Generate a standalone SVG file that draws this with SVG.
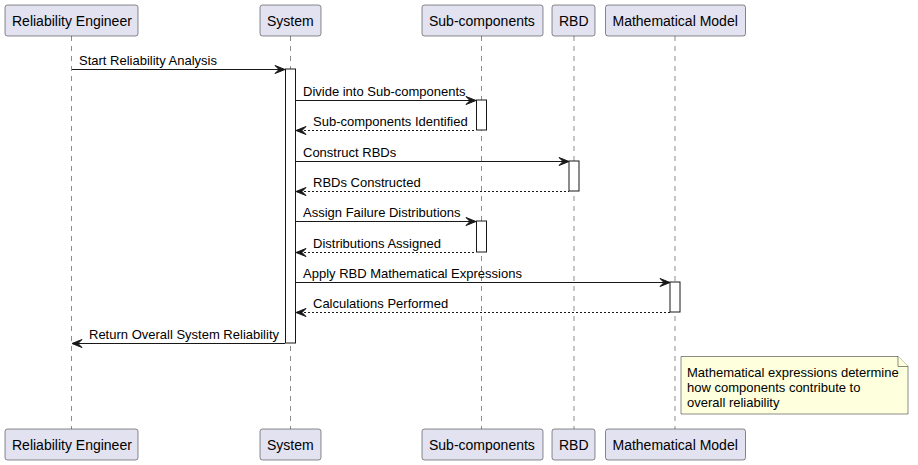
<svg xmlns="http://www.w3.org/2000/svg" width="918" height="465" viewBox="0 0 918 465">
<defs>
<style>
.p rect{fill:#E2E2F0;stroke:#181818;stroke-width:0.5}
.p text{font-family:"Liberation Sans",Arial,sans-serif;font-size:14px;fill:#000}
.life{stroke:#181818;stroke-width:0.5;stroke-dasharray:5,5;fill:none}
.act{fill:#FFFFFF;stroke:#181818;stroke-width:1}
.msg{stroke:#181818;stroke-width:1;fill:none}
.ret{stroke:#181818;stroke-width:1;fill:none;stroke-dasharray:2,2}
.ah{fill:#181818;stroke:#181818;stroke-width:1}
.lbl{font-family:"Liberation Sans",Arial,sans-serif;font-size:13px;fill:#000}
.note{fill:#FEFFDD;stroke:#181818;stroke-width:0.5}
</style>
</defs>
<rect width="918" height="465" fill="#FFFFFF"/>
<g id="lifelines">
<line class="life" x1="71.5" y1="36" x2="71.5" y2="429"/>
<line class="life" x1="290.5" y1="36" x2="290.5" y2="429"/>
<line class="life" x1="481.5" y1="36" x2="481.5" y2="429"/>
<line class="life" x1="574" y1="36" x2="574" y2="429"/>
<line class="life" x1="675" y1="36" x2="675" y2="429"/>
</g>
<g id="activations">
<rect class="act" x="285.5" y="69" width="10" height="274"/>
<rect class="act" x="476.5" y="100" width="10" height="30"/>
<rect class="act" x="569" y="161" width="10" height="30"/>
<rect class="act" x="476.5" y="221" width="10" height="31"/>
<rect class="act" x="670" y="282" width="10" height="30"/>
</g>
<g id="p-engineer" class="p">
<rect x="5" y="5" width="133" height="31" rx="2.5"/><text x="12" y="25.5">Reliability Engineer</text>
<rect x="5" y="429" width="133" height="31" rx="2.5"/><text x="12" y="449.5">Reliability Engineer</text>
</g>
<g id="p-system" class="p">
<rect x="260" y="5" width="61" height="31" rx="2.5"/><text x="267" y="25.5">System</text>
<rect x="260" y="429" width="61" height="31" rx="2.5"/><text x="267" y="449.5">System</text>
</g>
<g id="p-sub" class="p">
<rect x="422" y="5" width="121" height="31" rx="2.5"/><text x="429" y="25.5">Sub-components</text>
<rect x="422" y="429" width="121" height="31" rx="2.5"/><text x="429" y="449.5">Sub-components</text>
</g>
<g id="p-rbd" class="p">
<rect x="552" y="5" width="43" height="31" rx="2.5"/><text x="559" y="25.5">RBD</text>
<rect x="552" y="429" width="43" height="31" rx="2.5"/><text x="559" y="449.5">RBD</text>
</g>
<g id="p-model" class="p">
<rect x="605.5" y="5" width="140" height="31" rx="2.5"/><text x="612.5" y="25.5">Mathematical Model</text>
<rect x="605.5" y="429" width="140" height="31" rx="2.5"/><text x="612.5" y="449.5">Mathematical Model</text>
</g>
<g id="connectors">
<line class="msg" x1="72" y1="69.5" x2="283" y2="69.5"/>
<polygon class="ah" points="285,69.5 275,65.5 279,69.5 275,73.5"/>
<text class="lbl" x="79" y="65">Start Reliability Analysis</text>

<line class="msg" x1="296" y1="100.5" x2="474" y2="100.5"/>
<polygon class="ah" points="476,100.5 466,96.5 470,100.5 466,104.5"/>
<text class="lbl" x="303" y="96">Divide into Sub-components</text>

<line class="ret" x1="300" y1="130.5" x2="476" y2="130.5"/>
<polygon class="ah" points="296,130.5 306,126.5 302,130.5 306,134.5"/>
<text class="lbl" x="313" y="126">Sub-components Identified</text>

<line class="msg" x1="296" y1="161.5" x2="567" y2="161.5"/>
<polygon class="ah" points="569,161.5 559,157.5 563,161.5 559,165.5"/>
<text class="lbl" x="303" y="157">Construct RBDs</text>

<line class="ret" x1="300" y1="191.5" x2="569" y2="191.5"/>
<polygon class="ah" points="296,191.5 306,187.5 302,191.5 306,195.5"/>
<text class="lbl" x="313" y="187">RBDs Constructed</text>

<line class="msg" x1="296" y1="221.5" x2="474" y2="221.5"/>
<polygon class="ah" points="476,221.5 466,217.5 470,221.5 466,225.5"/>
<text class="lbl" x="303" y="217">Assign Failure Distributions</text>

<line class="ret" x1="300" y1="252.5" x2="476" y2="252.5"/>
<polygon class="ah" points="296,252.5 306,248.5 302,252.5 306,256.5"/>
<text class="lbl" x="313" y="248">Distributions Assigned</text>

<line class="msg" x1="296" y1="282.5" x2="668" y2="282.5"/>
<polygon class="ah" points="670,282.5 660,278.5 664,282.5 660,286.5"/>
<text class="lbl" x="303" y="278">Apply RBD Mathematical Expressions</text>

<line class="ret" x1="300" y1="312.5" x2="670" y2="312.5"/>
<polygon class="ah" points="296,312.5 306,308.5 302,312.5 306,316.5"/>
<text class="lbl" x="313" y="308">Calculations Performed</text>

<line class="msg" x1="76" y1="343.5" x2="285" y2="343.5"/>
<polygon class="ah" points="72,343.5 82,339.5 78,343.5 82,347.5"/>
<text class="lbl" x="89" y="339">Return Overall System Reliability</text>
</g>
<g id="note">
<path class="note" d="M681,356.5 L898,356.5 L908,366.5 L908,414 L681,414 Z"/>
<path class="note" d="M898,356.5 L898,366.5 L908,366.5" fill="none"/>
<text class="lbl" x="687" y="376.5">Mathematical expressions determine</text>
<text class="lbl" x="687" y="391.5">how components contribute to</text>
<text class="lbl" x="687" y="406.5">overall reliability</text>
</g>
</svg>
